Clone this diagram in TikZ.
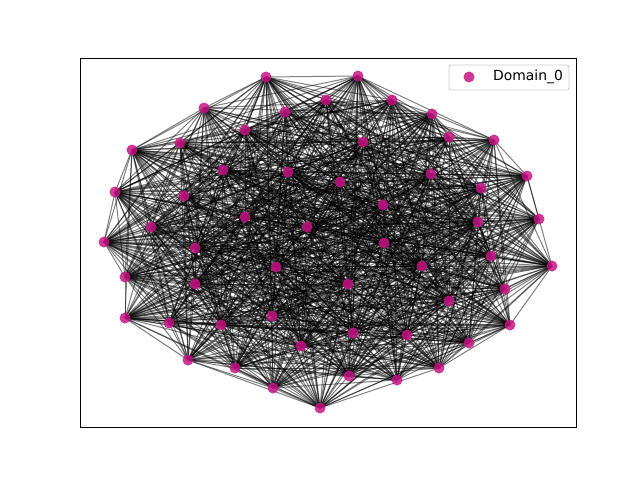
\documentclass[tikz,border=0pt]{standalone}
\usepackage{fontspec}
\setmainfont{DejaVu Sans}
\definecolor{mvr}{HTML}{C71585}
\begin{document}
\begin{tikzpicture}[x=1pt,y=-1pt,
  vnode/.style={circle,fill=mvr,fill opacity=0.85,draw=none,minimum size=11pt,inner sep=0pt},
  edge/.style={draw=black,opacity=0.5,line width=1pt},
  frame/.style={draw=black,line width=0.8pt},
  legendbox/.style={draw=black!20,fill=white,fill opacity=0.8,rounded corners=2pt,line width=0.8pt}]
\useasboundingbox (0,0) rectangle (640,480);
\foreach \x/\y [count=\i] in {266/77,358/76,204/108,326/100,392/100,285/112,432/114,245/130,449/137,494/140,
  132/150,180/143,363/142,223/170,288/172,340/182,431/174,527/176,115/192,184/196,
  481/188,383/205,539/219,478/222,245/217,151/227,307/227,104/242,195/248,384/243,
  491/256,552/266,276/267,422/266,125/277,195/284,348/284,505/289,449/301,272/316,
  125/318,169/323,221/325,510/325,353/333,407/335,301/346,469/343,188/360,235/368,
  439/368,349/376,397/380,273/388,320/408}
  {\coordinate (n\i) at (\x,\y);}
\pgfmathsetseed{4242}
\foreach \i in {1,...,54}{
  \pgfmathtruncatemacro\s{\i+1}
  \foreach \j in {\s,...,55}{
    \pgfmathtruncatemacro\e{rnd<0.72}
    \ifnum\e=1 \draw[edge] (n\i) -- (n\j);\fi
  }
}
\foreach \i in {1,...,55}{\node[vnode] (v\i) at (n\i) {};}
\draw[frame] (80,58) rectangle (576,427);
\draw[legendbox] (449,65) rectangle (569,90);
\node[vnode] (lm) at (469,77) {};
\node[anchor=west,inner sep=0pt,font=\fontsize{13.9}{16}\selectfont] (lt) at (493,77) {Domain\_0};
\end{tikzpicture}
\end{document}
